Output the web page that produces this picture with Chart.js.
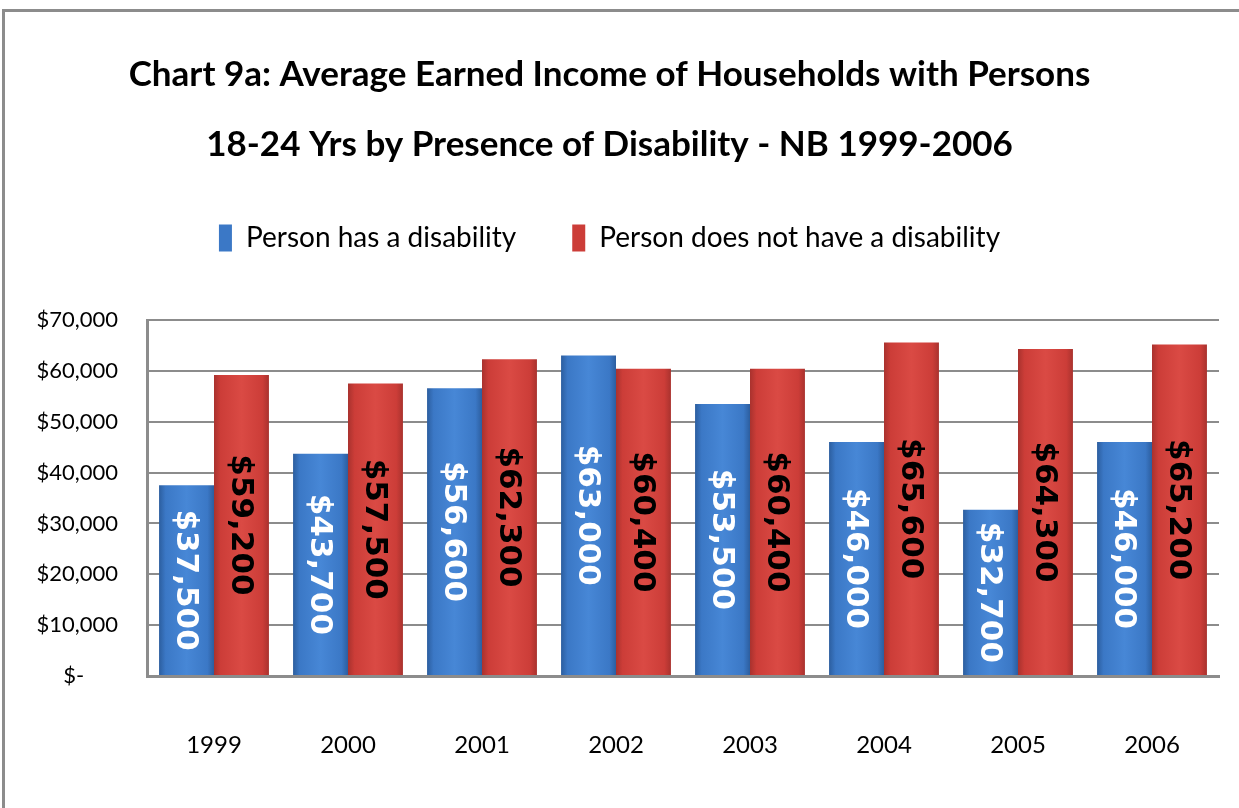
<!DOCTYPE html>
<html>
<head>
<meta charset="utf-8">
<script src="https://cdn.jsdelivr.net/npm/chart.js@4/dist/chart.umd.min.js"></script>
<style>
  body { margin: 0; background: #fff; }
  #wrap { position: relative; width: 1239px; height: 808px; }
  #frame { position: absolute; left: 2px; top: 9px; right: -10px; bottom: -10px;
           border-top: 3px solid #8c8c8c; border-left: 3px solid #8c8c8c; pointer-events: none; }
</style>
</head>
<body>
<div id="wrap">
  <canvas id="myChart" width="1239" height="808"></canvas>
  <div id="frame"></div>
</div>
<script>
// chart data
const years = ['1999', '2000', '2001', '2002', '2003', '2004', '2005', '2006'];
const withDisability = [37500, 43700, 56600, 63000, 53500, 46000, 32700, 46000];
const withoutDisability = [59200, 57500, 62300, 60400, 60400, 65600, 64300, 65200];
const yTickLabels = ['$-      ', '$10,000', '$20,000', '$30,000', '$40,000', '$50,000', '$60,000', '$70,000'];

const face = "Lato, 'DejaVu Sans Condensed', sans-serif";

// colour sets: edge, middle, light centre
const shades = [
  ['#2c5e9f', '#3b78c6', '#4787d6'],
  ['#a9322e', '#cc3d38', '#da4a44']
];
const labelColors = ['#ffffff', '#000000'];

// horizontal gradient on each bar, set just before drawing
const barShading = {
  id: 'barShading',
  beforeDatasetsDraw(chart) {
    const ctx = chart.ctx;
    chart.data.datasets.forEach((ds, di) => {
      const meta = chart.getDatasetMeta(di);
      const s = shades[di];
      meta.data.forEach(bar => {
        const g = ctx.createLinearGradient(bar.x - bar.width / 2, 0, bar.x + bar.width / 2, 0);
        g.addColorStop(0, s[0]);
        g.addColorStop(0.12, s[1]);
        g.addColorStop(0.5, s[2]);
        g.addColorStop(0.88, s[1]);
        g.addColorStop(1, s[0]);
        bar.options = Object.assign({}, bar.options, { backgroundColor: g });
      });
    });
  }
};

// rotated value labels in the middle of each bar
const barLabels = {
  id: 'barLabels',
  afterDatasetsDraw(chart) {
    const ctx = chart.ctx;
    chart.data.datasets.forEach((ds, di) => {
      const meta = chart.getDatasetMeta(di);
      meta.data.forEach((bar, i) => {
        const v = ds.data[i];
        ctx.save();
        ctx.translate(bar.x, (bar.y + bar.base) / 2);
        ctx.rotate(Math.PI / 2);
        ctx.font = "bold 31px 'DejaVu Sans', Verdana, sans-serif";
        ctx.fillStyle = labelColors[di];
        ctx.textAlign = 'center';
        ctx.textBaseline = 'middle';
        ctx.fillText('$' + v.toLocaleString('en-US'), 0, 1);
        ctx.restore();
      });
    });
  }
};

// extra room between legend and plot
const legendGap = {
  id: 'legendGap',
  beforeLayout(chart) {
    const lg = chart.legend;
    if (lg && !lg._gapDone) {
      const fit = lg.fit;
      lg.fit = function () { fit.call(this); this.height += 58; };
      lg._gapDone = true;
    }
  }
};

const ctx = document.getElementById('myChart').getContext('2d');
const myChart = new Chart(ctx, {
  type: 'bar',
  data: {
    labels: years,
    datasets: [
      {
        label: 'Person has a disability',
        data: withDisability,
        backgroundColor: '#3b78c6',
        categoryPercentage: 0.82,
        barPercentage: 1.0
      },
      {
        label: 'Person does not have a disability',
        data: withoutDisability,
        backgroundColor: '#cc3d38',
        categoryPercentage: 0.82,
        barPercentage: 1.0
      }
    ]
  },
  options: {
    responsive: false,
    animation: false,
    layout: { padding: { left: 0, right: 20, top: 0, bottom: 42 } },
    plugins: {
      title: {
        display: true,
        text: ['Chart 9a: Average Earned Income of Households with Persons',
               '18-24 Yrs by Presence of Disability - NB 1999-2006'],
        color: '#000',
        font: { family: face, size: 35, weight: 'bold', lineHeight: 70 / 35 },
        padding: { top: 40, bottom: -12 }
      },
      legend: {
        position: 'top',
        labels: {
          color: '#000',
          font: { family: face, size: 28 },
          boxWidth: 13,
          boxHeight: 27,
          padding: 56
        }
      },
      tooltip: { enabled: false }
    },
    scales: {
      x: {
        afterFit(scale) { scale.height = 90; },
        grid: { display: false, drawTicks: false },
        border: { display: true, color: '#8c8c8c', width: 3 },
        ticks: { color: '#000', font: { family: face, size: 24 }, padding: 55 }
      },
      y: {
        min: 0,
        max: 70000,
        afterFit(scale) { scale.width = 147; },
        grid: { color: '#8c8c8c', lineWidth: 2, drawTicks: false },
        border: { display: true, color: '#8c8c8c', width: 3 },
        ticks: {
          stepSize: 10000,
          color: '#000',
          font: { family: face, size: 22 },
          padding: 29,
          callback: (v, i) => yTickLabels[i]
        }
      }
    }
  },
  plugins: [barShading, barLabels, legendGap]
});
</script>
</body>
</html>
